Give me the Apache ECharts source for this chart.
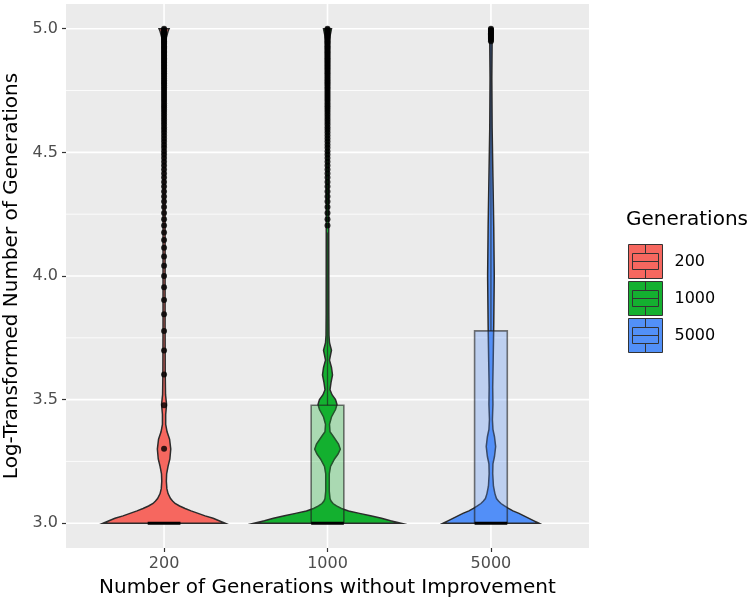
<!DOCTYPE html>
<html><head><meta charset="utf-8">
<script src="https://cdn.jsdelivr.net/npm/echarts@6/dist/echarts.min.js"></script>
<style>html,body{margin:0;padding:0;background:#fff}#c{width:750px;height:606px}</style>
</head><body><div id="c"></div>
<script>
// ---------- data ----------
const categories = ['200', '1000', '5000'];
const catPos = [1, 2, 3];
const colors = ['#F6675F', '#14B030', '#5290F8'];
const yTicks = [3.0, 3.5, 4.0, 4.5, 5.0];
const yMinor = [3.25, 3.75, 4.25, 4.75];

// violin density profiles (value, relative half-width)
const v200Y = [3.00,3.01,3.02,3.03,3.04,3.05,3.06,3.07,3.08,3.09,3.10,3.12,3.14,3.17,3.20,3.23,3.26,3.30,3.34,3.37,3.40,3.44,3.48,3.52,3.60,3.80,4.20,4.60,4.94,4.96,4.99,5.00];
const v200D = [0.830,0.748,0.667,0.558,0.463,0.367,0.286,0.211,0.150,0.116,0.088,0.054,0.038,0.031,0.035,0.054,0.079,0.091,0.075,0.041,0.022,0.022,0.034,0.020,0.016,0.014,0.014,0.014,0.014,0.027,0.054,0.068];
const v1000Y = [3.00,3.01,3.02,3.03,3.04,3.05,3.06,3.07,3.08,3.09,3.10,3.13,3.20,3.23,3.26,3.28,3.30,3.32,3.35,3.37,3.40,3.43,3.46,3.48,3.50,3.52,3.54,3.57,3.60,3.63,3.66,3.70,3.73,3.76,3.85,4.50,4.90,4.96,4.99,5.00];
const v1000D = [1.000,0.857,0.735,0.585,0.435,0.286,0.190,0.122,0.075,0.048,0.034,0.024,0.024,0.041,0.095,0.143,0.174,0.150,0.082,0.034,0.027,0.054,0.109,0.129,0.109,0.061,0.034,0.048,0.068,0.054,0.027,0.054,0.027,0.020,0.018,0.016,0.016,0.027,0.048,0.054];
const v5000Y = [3.00,3.01,3.02,3.03,3.04,3.05,3.06,3.07,3.08,3.09,3.10,3.12,3.15,3.20,3.24,3.27,3.31,3.35,3.38,3.42,3.48,3.55,3.65,3.80,4.00,4.20,4.40,4.60,4.80,4.95,5.00];
const v5000D = [0.653,0.585,0.517,0.449,0.381,0.299,0.238,0.184,0.136,0.102,0.075,0.054,0.034,0.024,0.027,0.048,0.064,0.048,0.027,0.020,0.027,0.024,0.030,0.038,0.045,0.038,0.027,0.016,0.012,0.016,0.027];

// box stats: [Q1, median, Q3, lower whisker, upper whisker]
const box200 = [3.0, 3.0, 3.0, 3.0, 3.0];
const box1000 = [3.0, 3.0, 3.477, 3.0, 4.176];
const box5000 = [3.0, 3.0, 3.778, 3.0, 4.944];

// outliers
const out200 = [3.301,3.477,3.602,3.699,3.778,3.845,3.903,3.954,4.000,4.041,4.079,4.114,4.146,4.176,4.204,4.230,4.255,4.279,4.301,4.322,4.342,4.362,4.380,4.398,4.415,4.431,4.447,4.462,4.477,4.491,4.505,4.519,4.531,4.544,4.556,4.568,4.580,4.591,4.602,4.613,4.623,4.633,4.643,4.653,4.663,4.672,4.681,4.690,4.699,4.708,4.716,4.724,4.732,4.740,4.748,4.756,4.763,4.771,4.778,4.785,4.792,4.799,4.806,4.813,4.820,4.826,4.833,4.839,4.845,4.851,4.857,4.863,4.869,4.875,4.881,4.886,4.892,4.898,4.903,4.908,4.914,4.919,4.924,4.929,4.934,4.940,4.944,4.949,4.954,4.959,4.964,4.968,4.973,4.978,4.982,4.987,4.991,4.996,5.000];
const out1000 = [4.204,4.230,4.255,4.279,4.301,4.322,4.342,4.362,4.380,4.398,4.415,4.431,4.447,4.462,4.477,4.491,4.505,4.519,4.531,4.544,4.556,4.568,4.580,4.591,4.602,4.613,4.623,4.633,4.643,4.653,4.663,4.672,4.681,4.690,4.699,4.708,4.716,4.724,4.732,4.740,4.748,4.756,4.763,4.771,4.778,4.785,4.792,4.799,4.806,4.813,4.820,4.826,4.833,4.839,4.845,4.851,4.857,4.863,4.869,4.875,4.881,4.886,4.892,4.898,4.903,4.908,4.914,4.919,4.924,4.929,4.934,4.940,4.944,4.949,4.954,4.959,4.964,4.968,4.973,4.978,4.982,4.987,4.991,4.996,5.000];
const out5000 = [4.949,4.954,4.959,4.964,4.968,4.973,4.978,4.982,4.987,4.991,4.996,5.000];

// ---------- chart ----------
const FONT = 'DejaVu Sans';
const violins = [[v200Y, v200D], [v1000Y, v1000D], [v5000Y, v5000D]];
const boxes = [box200, box1000, box5000];
const outs = [out200, out1000, out5000];
const X0 = 0.4, X1 = 3.6;

function hexA(hex, a) {
  const n = parseInt(hex.slice(1), 16);
  return 'rgba(' + (n >> 16 & 255) + ',' + (n >> 8 & 255) + ',' + (n & 255) + ',' + a + ')';
}

const series = [];
// gridlines
series.push({
  type: 'custom', silent: true, z: 1,
  data: yMinor.map(v => [X0, v]), encode: {x: 0, y: 1},
  renderItem: (p, api) => {
    const a = api.coord([X0, api.value(1)]), b = api.coord([X1, api.value(1)]);
    return {type: 'line', shape: {x1: a[0], y1: a[1], x2: b[0], y2: b[1]}, style: {stroke: '#fff', lineWidth: 0.8}};
  }
});
series.push({
  type: 'custom', silent: true, z: 1,
  data: yTicks.map(v => [X0, v]), encode: {x: 0, y: 1},
  renderItem: (p, api) => {
    const a = api.coord([X0, api.value(1)]), b = api.coord([X1, api.value(1)]);
    return {type: 'line', shape: {x1: a[0], y1: a[1], x2: b[0], y2: b[1]}, style: {stroke: '#fff', lineWidth: 1.6}};
  }
});
series.push({
  type: 'custom', silent: true, z: 1,
  data: catPos.map(x => [x, 5.1]), encode: {x: 0, y: 1},
  renderItem: (p, api) => {
    const a = api.coord([api.value(0), 5.1]), b = api.coord([api.value(0), 2.9]);
    return {type: 'line', shape: {x1: a[0], y1: a[1], x2: b[0], y2: b[1]}, style: {stroke: '#fff', lineWidth: 1.6}};
  }
});

// violins
violins.forEach(([ys, ds], i) => {
  series.push({
    type: 'custom', name: categories[i], z: 3, silent: true,
    itemStyle: {color: colors[i]},
    data: ys.map((v, j) => [catPos[i], v, ds[j]]), encode: {x: 0, y: 1},
    renderItem: (p, api) => {
      if (p.dataIndex !== 0) return null;
      const R = [], L = [];
      for (let j = 0; j < ys.length; j++) {
        R.push(api.coord([catPos[i] + ds[j] * 0.45, ys[j]]));
        L.push(api.coord([catPos[i] - ds[j] * 0.45, ys[j]]));
      }
      return {type: 'polygon', shape: {points: R.concat(L.reverse())},
        style: {fill: colors[i], stroke: '#2b2b2b', lineWidth: 1.5}};
    }
  });
});

// boxes
boxes.forEach((b, i) => {
  series.push({
    type: 'custom', z: 4, silent: true,
    data: [[catPos[i]].concat(b)], encode: {x: 0, y: [1, 2, 3, 4, 5]},
    renderItem: (p, api) => {
      const x = api.value(0), q1 = api.value(1), med = api.value(2), q3 = api.value(3), wl = api.value(4), wh = api.value(5);
      const tl = api.coord([x - 0.1, q3]), br = api.coord([x + 0.1, q1]);
      const ml = api.coord([x - 0.1, med]), mr = api.coord([x + 0.1, med]);
      const children = [];
      if (wh > q3) {
        const a = api.coord([x, q3]), c = api.coord([x, wh]);
        children.push({type: 'line', shape: {x1: a[0], y1: a[1], x2: c[0], y2: c[1]}, style: {stroke: 'rgba(30,30,30,0.65)', lineWidth: 1.3}});
      }
      if (wl < q1) {
        const a = api.coord([x, q1]), c = api.coord([x, wl]);
        children.push({type: 'line', shape: {x1: a[0], y1: a[1], x2: c[0], y2: c[1]}, style: {stroke: 'rgba(30,30,30,0.65)', lineWidth: 1.3}});
      }
      children.push({type: 'rect', shape: {x: tl[0], y: tl[1], width: br[0] - tl[0], height: br[1] - tl[1]},
        style: {fill: hexA(colors[i], 0.3), stroke: 'rgba(30,30,30,0.6)', lineWidth: 1.6}});
      children.push({type: 'line', shape: {x1: ml[0], y1: ml[1], x2: mr[0], y2: mr[1]}, style: {stroke: '#000', lineWidth: 3}});
      return {type: 'group', children};
    }
  });
});

// outliers
outs.forEach((o, i) => {
  series.push({
    type: 'scatter', z: 5, silent: true, symbol: 'circle', symbolSize: 6,
    itemStyle: {color: '#000'},
    data: o.map(v => [catPos[i], v])
  });
});

const keyIcon = 'path://M0,0H34V34H0Z M4,9H30V25H4Z M4,17H30 M17,0V9 M17,25V34';

const option = {
  animation: false,
  backgroundColor: '#fff',
  title: {
    text: 'Generations', left: 621, top: 205,
    textStyle: {fontFamily: FONT, fontSize: 20, fontWeight: 'normal', color: '#000'}
  },
  legend: {
    orient: 'vertical', left: 623, top: 239, itemWidth: 34, itemHeight: 34, itemGap: 2,
    selectedMode: false,
    textStyle: {fontFamily: FONT, fontSize: 16, color: '#000', padding: [0, 0, 0, 7]},
    data: categories.map((c, i) => ({
      name: c, icon: keyIcon,
      itemStyle: {color: colors[i], borderColor: '#333', borderWidth: 1}
    }))
  },
  grid: {left: 66, right: 161, top: 4, bottom: 58, show: true, backgroundColor: '#EBEBEB', borderWidth: 0,
    containLabel: false, outerBoundsMode: 'none'},
  xAxis: {
    type: 'value', min: X0, max: X1,
    name: 'Number of Generations without Improvement', nameLocation: 'middle', nameGap: 30,
    nameTextStyle: {fontFamily: FONT, fontSize: 20, color: '#000'},
    axisLine: {show: false},
    axisTick: {show: true, customValues: catPos, length: 4, lineStyle: {color: '#333', width: 1.2}},
    axisLabel: {customValues: catPos, margin: 8, fontFamily: FONT, fontSize: 16, color: '#4D4D4D',
      formatter: v => categories[Math.round(v) - 1]},
    splitLine: {show: false}
  },
  yAxis: {
    type: 'value', min: 2.9, max: 5.1,
    name: 'Log-Transformed Number of Generations', nameLocation: 'middle', nameGap: 37,
    nameTextStyle: {fontFamily: FONT, fontSize: 20, color: '#000'},
    axisLine: {show: false},
    axisTick: {show: true, customValues: yTicks, length: 4, lineStyle: {color: '#333', width: 1.2}},
    axisLabel: {customValues: yTicks, margin: 8, fontFamily: FONT, fontSize: 16, color: '#4D4D4D',
      formatter: v => v.toFixed(1)},
    splitLine: {show: false}
  },
  series
};
const chart = echarts.init(document.getElementById('c'));
chart.setOption(option);
</script>
</body></html>
